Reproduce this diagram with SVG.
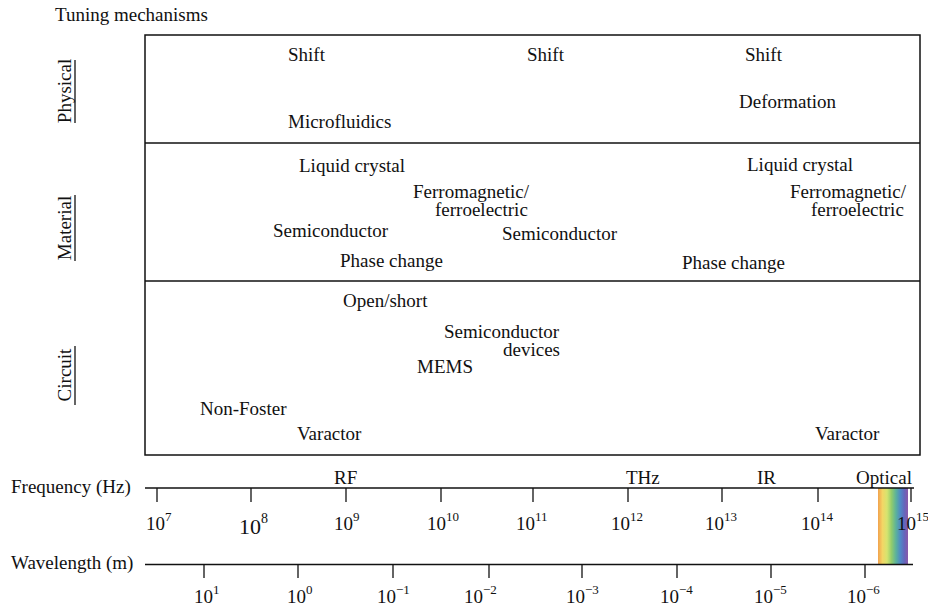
<svg xmlns="http://www.w3.org/2000/svg" width="928" height="608" viewBox="0 0 928 608">
<defs>
<style>
text{font-family:"Liberation Serif","Times New Roman",serif;font-size:19px;fill:#111}
.sm{font-size:13px}
.box{fill:none;stroke:#111;stroke-width:1.5}
.ax{stroke:#111;stroke-width:1.3;fill:none}
.tk{stroke:#111;stroke-width:1.3}
.mid{text-anchor:middle}
</style>
<linearGradient id="rainbow" x1="0" y1="0" x2="1" y2="0">
<stop offset="0" stop-color="#f2a24e"/>
<stop offset="0.15" stop-color="#f3d665"/>
<stop offset="0.3" stop-color="#d6e46f"/>
<stop offset="0.45" stop-color="#92cc6c"/>
<stop offset="0.6" stop-color="#5bb29b"/>
<stop offset="0.75" stop-color="#4f88c6"/>
<stop offset="0.88" stop-color="#6466bc"/>
<stop offset="1" stop-color="#8a58a8"/>
</linearGradient>
</defs>
<rect width="928" height="608" fill="#fff"/>

<text x="55" y="21">Tuning mechanisms</text>

<g id="panels">
<rect class="box" x="145" y="35" width="775" height="420"/>
<line class="box" x1="145" y1="143" x2="920" y2="143"/>
<line class="box" x1="145" y1="281" x2="920" y2="281"/>
</g>

<g id="cat-physical">
<text class="mid" transform="translate(71,91) rotate(-90)">Physical</text>
<line class="tk" x1="75" y1="60" x2="75" y2="123"/>
</g>
<g id="cat-material">
<text class="mid" transform="translate(71,228) rotate(-90)">Material</text>
<line class="tk" x1="75" y1="195" x2="75" y2="261"/>
</g>
<g id="cat-circuit">
<text class="mid" transform="translate(71,375) rotate(-90)">Circuit</text>
<line class="tk" x1="75" y1="346" x2="75" y2="405"/>
</g>

<g id="n-shift1"><text x="288" y="61">Shift</text></g>
<g id="n-shift2"><text x="527" y="61">Shift</text></g>
<g id="n-shift3"><text x="745" y="61">Shift</text></g>
<g id="n-deformation"><text x="739" y="108">Deformation</text></g>
<g id="n-microfluidics"><text x="288" y="128">Microfluidics</text></g>

<g id="n-lc1"><text x="299" y="172">Liquid crystal</text></g>
<g id="n-lc2"><text x="747" y="171">Liquid crystal</text></g>
<g id="n-ferro1"><text x="413" y="198">Ferromagnetic/</text><text x="435" y="216">ferroelectric</text></g>
<g id="n-ferro2"><text x="790" y="198">Ferromagnetic/</text><text x="811" y="216">ferroelectric</text></g>
<g id="n-semi1"><text x="273" y="237">Semiconductor</text></g>
<g id="n-semi2"><text x="502" y="240">Semiconductor</text></g>
<g id="n-phase1"><text x="340" y="267">Phase change</text></g>
<g id="n-phase2"><text x="682" y="269">Phase change</text></g>

<g id="n-openshort"><text x="343" y="307">Open/short</text></g>
<g id="n-semidev"><text x="444" y="338">Semiconductor</text><text x="503" y="356">devices</text></g>
<g id="n-mems"><text x="417" y="373">MEMS</text></g>
<g id="n-nonfoster"><text x="200" y="415">Non-Foster</text></g>
<g id="n-varactor1"><text x="297" y="440">Varactor</text></g>
<g id="n-varactor2"><text x="815" y="440">Varactor</text></g>

<rect id="optical-band" x="878" y="488" width="30" height="76" fill="url(#rainbow)"/>

<g id="connectors">
<line class="ax" x1="145" y1="488" x2="914" y2="488"/>
<line class="ax" x1="145" y1="564.5" x2="913" y2="564.5"/>
<g class="tk">
<line x1="157" y1="488" x2="157" y2="502"/>
<line x1="251" y1="488" x2="251" y2="502"/>
<line x1="346" y1="488" x2="346" y2="502"/>
<line x1="441" y1="488" x2="441" y2="502"/>
<line x1="533" y1="488" x2="533" y2="502"/>
<line x1="628" y1="488" x2="628" y2="502"/>
<line x1="722" y1="488" x2="722" y2="502"/>
<line x1="818" y1="488" x2="818" y2="502"/>
<line x1="911" y1="488" x2="911" y2="502"/>
<line x1="204" y1="564" x2="204" y2="578"/>
<line x1="298" y1="564" x2="298" y2="578"/>
<line x1="393" y1="564" x2="393" y2="578"/>
<line x1="489" y1="564" x2="489" y2="578"/>
<line x1="582" y1="564" x2="582" y2="578"/>
<line x1="677" y1="564" x2="677" y2="578"/>
<line x1="771" y1="564" x2="771" y2="578"/>
<line x1="865" y1="564" x2="865" y2="578"/>
</g>
</g>

<g id="axis-labels">
<text x="11" y="493">Frequency (Hz)</text>
<text x="11" y="569">Wavelength (m)</text>
<text x="334" y="484">RF</text>
<text x="626" y="484">THz</text>
<text x="757" y="484">IR</text>
<text x="856" y="484">Optical</text>
</g>

<g id="freq-ticks">
<text x="146" y="530">10<tspan class="sm" dy="-9">7</tspan></text>
<text x="239" y="534" style="font-size:22px">10<tspan style="font-size:14px" dy="-11">8</tspan></text>
<text x="334" y="530">10<tspan class="sm" dy="-9">9</tspan></text>
<text x="427" y="530">10<tspan class="sm" dy="-9">10</tspan></text>
<text x="516" y="530">10<tspan class="sm" dy="-9">11</tspan></text>
<text x="611" y="530">10<tspan class="sm" dy="-9">12</tspan></text>
<text x="705" y="530">10<tspan class="sm" dy="-9">13</tspan></text>
<text x="801" y="530">10<tspan class="sm" dy="-9">14</tspan></text>
<text x="897" y="530">10<tspan class="sm" dy="-9">15</tspan></text>
</g>

<g id="wave-ticks">
<text x="194" y="603">10<tspan class="sm" dy="-9">1</tspan></text>
<text x="287" y="603">10<tspan class="sm" dy="-9">0</tspan></text>
<text x="377" y="603">10<tspan class="sm" dy="-9">−1</tspan></text>
<text x="464" y="603">10<tspan class="sm" dy="-9">−2</tspan></text>
<text x="566" y="603">10<tspan class="sm" dy="-9">−3</tspan></text>
<text x="660" y="603">10<tspan class="sm" dy="-9">−4</tspan></text>
<text x="754" y="603">10<tspan class="sm" dy="-9">−5</tspan></text>
<text x="847" y="603">10<tspan class="sm" dy="-9">−6</tspan></text>
</g>
</svg>
